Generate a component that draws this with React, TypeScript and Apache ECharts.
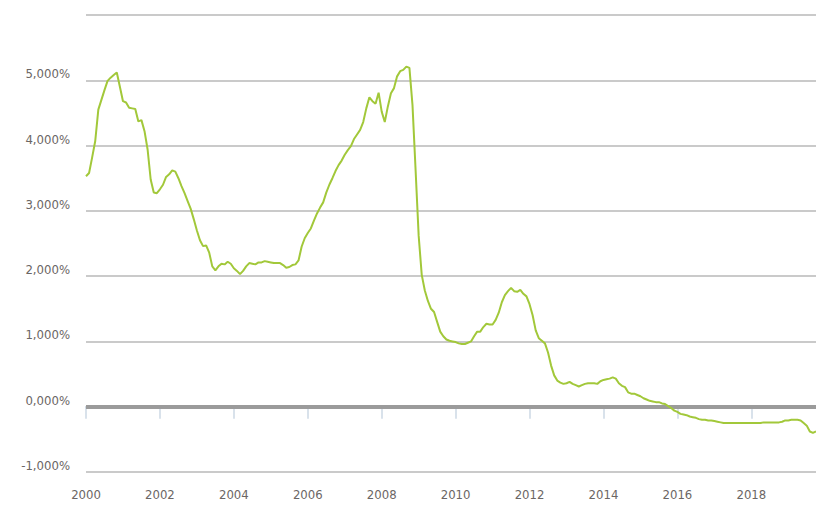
import React, { useEffect, useRef } from "react";
import * as echarts from "echarts";

// Monthly values (%), January to December of each year
const years = [2000, 2001, 2002, 2003, 2004, 2005, 2006, 2007, 2008, 2009, 2010, 2011, 2012, 2013, 2014, 2015, 2016, 2017, 2018, 2019];
const rate2000 = [3.53, 3.58, 3.82, 4.07, 4.55, 4.70, 4.85, 4.99, 5.04, 5.08, 5.12, 4.90];
const rate2001 = [4.68, 4.66, 4.58, 4.57, 4.56, 4.37, 4.39, 4.22, 3.94, 3.48, 3.28, 3.27];
const rate2002 = [3.33, 3.40, 3.52, 3.56, 3.62, 3.60, 3.50, 3.38, 3.27, 3.15, 3.03, 2.87];
const rate2003 = [2.70, 2.55, 2.46, 2.47, 2.36, 2.15, 2.09, 2.15, 2.19, 2.18, 2.22, 2.19];
const rate2004 = [2.12, 2.08, 2.03, 2.08, 2.15, 2.20, 2.19, 2.18, 2.21, 2.21, 2.23, 2.22];
const rate2005 = [2.21, 2.20, 2.20, 2.20, 2.17, 2.13, 2.14, 2.17, 2.18, 2.24, 2.45, 2.58];
const rate2006 = [2.66, 2.73, 2.85, 2.96, 3.05, 3.13, 3.28, 3.40, 3.50, 3.61, 3.70, 3.77];
const rate2007 = [3.86, 3.93, 3.99, 4.10, 4.17, 4.24, 4.36, 4.57, 4.74, 4.68, 4.64, 4.81];
const rate2008 = [4.52, 4.36, 4.60, 4.80, 4.88, 5.06, 5.14, 5.16, 5.21, 5.19, 4.62, 3.63];
const rate2009 = [2.62, 2.02, 1.78, 1.62, 1.50, 1.45, 1.30, 1.15, 1.08, 1.03, 1.01, 1.00];
const rate2010 = [0.99, 0.97, 0.96, 0.96, 0.98, 1.00, 1.08, 1.15, 1.15, 1.22, 1.27, 1.26];
const rate2011 = [1.26, 1.33, 1.44, 1.60, 1.71, 1.77, 1.82, 1.77, 1.76, 1.79, 1.73, 1.69];
const rate2012 = [1.57, 1.40, 1.17, 1.05, 1.01, 0.97, 0.83, 0.63, 0.48, 0.40, 0.37, 0.35];
const rate2013 = [0.36, 0.38, 0.35, 0.33, 0.31, 0.33, 0.35, 0.36, 0.36, 0.36, 0.35, 0.39];
const rate2014 = [0.41, 0.42, 0.43, 0.45, 0.43, 0.36, 0.32, 0.30, 0.22, 0.20, 0.20, 0.18];
const rate2015 = [0.16, 0.13, 0.11, 0.09, 0.08, 0.07, 0.07, 0.05, 0.04, 0.01, -0.02, -0.06];
const rate2016 = [-0.08, -0.11, -0.12, -0.13, -0.15, -0.16, -0.17, -0.19, -0.20, -0.20, -0.21, -0.21];
const rate2017 = [-0.22, -0.23, -0.24, -0.25, -0.25, -0.25, -0.25, -0.25, -0.25, -0.25, -0.25, -0.25];
const rate2018 = [-0.25, -0.25, -0.25, -0.25, -0.24, -0.24, -0.24, -0.24, -0.24, -0.24, -0.23, -0.21];
const rate2019 = [-0.21, -0.20, -0.20, -0.20, -0.21, -0.25, -0.29, -0.38, -0.40, -0.38];

const yearly = [rate2000, rate2001, rate2002, rate2003, rate2004, rate2005, rate2006, rate2007, rate2008, rate2009,
  rate2010, rate2011, rate2012, rate2013, rate2014, rate2015, rate2016, rate2017, rate2018, rate2019];

const yMin = -1;
const yMax = 6;
const yStep = 1;
const labelEveryMonths = 24;

const months: string[] = [];
const values: number[] = [];
yearly.forEach((arr, yi) => {
  arr.forEach((v, mi) => {
    months.push(`${years[yi]}-${String(mi + 1).padStart(2, "0")}`);
    values.push(v);
  });
});

const FONT = "'DejaVu Sans Condensed', 'Liberation Sans', sans-serif";
const TEXT = "#6b6664";

export default function App() {
  const ref = useRef<HTMLDivElement>(null);
  useEffect(() => {
    if (!ref.current) return;
    const chart = echarts.init(ref.current, null, { renderer: "svg" });
    chart.setOption({
      animation: false,
      backgroundColor: "#ffffff",
      grid: { left: 86, right: 0, top: 15, bottom: 49, containLabel: false },
      xAxis: {
        type: "category",
        data: months,
        boundaryGap: false,
        axisLine: { show: true, lineStyle: { color: "#cdd8e5", width: 2 } },
        axisTick: {
          show: true,
          length: 12,
          interval: (i: number) => i % labelEveryMonths === 0,
          lineStyle: { color: "#cdd8e5", width: 1.5 },
        },
        axisLabel: {
          interval: (i: number) => i % labelEveryMonths === 0,
          formatter: (v: string) => v.slice(0, 4),
          color: TEXT,
          fontFamily: FONT,
          fontSize: 13,
          margin: 16,
        },
        splitLine: { show: false },
      },
      yAxis: {
        type: "value",
        min: yMin,
        max: yMax,
        interval: yStep,
        axisLine: { show: false },
        axisTick: { show: false },
        splitLine: { show: true, lineStyle: { color: "#cacaca", width: 2 } },
        axisLabel: {
          formatter: (v: number) => (v === yMax ? "" : v.toFixed(3).replace(".", ",") + "%"),
          color: TEXT,
          fontFamily: FONT,
          fontSize: 13,
          margin: 16,
          verticalAlign: "bottom",
        },
      },
      series: [
        {
          type: "line",
          data: values,
          symbol: "none",
          smooth: false,
          lineStyle: { color: "#a2c83a", width: 2 },
          z: 3,
          markLine: {
            silent: true,
            symbol: ["none", "none"],
            label: { show: false },
            lineStyle: { color: "#9b9b9b", width: 4, type: "solid" },
            data: [{ yAxis: 0 }],
            z: 2,
          },
        },
      ],
    });
    return () => chart.dispose();
  }, []);
  return (
    <div
      ref={ref}
      style={{ position: "fixed", left: 0, top: 0, width: 816, height: 521, background: "#fff" }}
    />
  );
}
